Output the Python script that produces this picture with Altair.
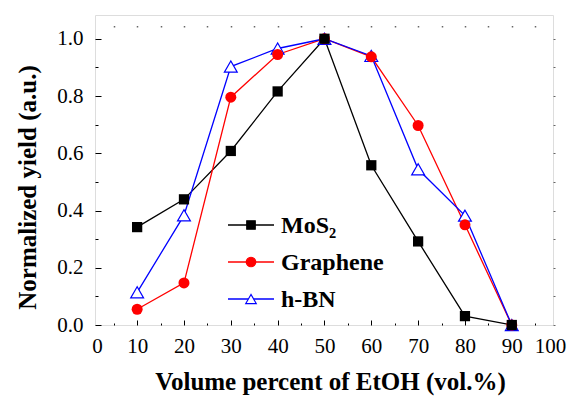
import altair as alt
import pandas as pd

# ---- data ----
etoh = [10, 20, 30, 40, 50, 60, 70, 80, 90]
mos2 = [0.342, 0.439, 0.608, 0.816, 1.0, 0.558, 0.292, 0.031, 0.0]
graphene = [0.055, 0.147, 0.796, 0.945, 1.0, 0.937, 0.697, 0.350, 0.0]
hbn = [0.114, 0.383, 0.903, 0.966, 1.0, 0.940, 0.544, 0.382, 0.0]

series_names = ["MoS\u2082", "Graphene", "h-BN"]
series_colors = ["#000000", "#ff0000", "#0000ff"]
series_shapes = ["square", "circle", "triangle-up"]
series_fills = ["#000000", "#ff0000", "#ffffff"]

x_label_values = [10, 20, 30, 40, 50, 60, 70, 80, 90]
x_end_labels = [0, 100]
x_major_ticks = [10, 20, 30, 40, 50, 60, 70, 80, 90]
x_minor_ticks = [5, 15, 25, 35, 45, 55, 65, 75, 85, 95]
x_top_dots = [5, 10, 15, 20, 25, 30, 35, 40, 45, 50, 55, 60, 65, 70, 75, 80, 85, 90, 95]
y_label_values = [0.0, 0.2, 0.4, 0.6, 0.8, 1.0]
y_minor_ticks = [0.1, 0.3, 0.5, 0.7, 0.9]
y_right_dots = [0.0, 0.1, 0.2, 0.3, 0.4, 0.5, 0.6, 0.7, 0.8, 0.9, 1.0]

rows = []
for name, vals in zip(series_names, [mos2, graphene, hbn]):
    for xv, yv in zip(etoh, vals):
        rows.append({"x": xv, "y": yv, "series": name})
df = pd.DataFrame(rows)
legend_df = pd.DataFrame({"series": series_names})

FONT = "Liberation Serif"
xs = alt.Scale(domain=[1, 98.8], nice=False, zero=False)
xs_frame = alt.Scale(domain=[0, 100], nice=False, zero=False)
ys = alt.Scale(domain=[0, 1.083], nice=False, zero=False)
color_scale = alt.Scale(domain=series_names, range=series_colors)
# legend rows placed by a point scale (pixels inside the plot area)
legend_rows = alt.Scale(type="point", domain=series_names, range=[210, 284], padding=0)


def tick_axis(**kw):
    base = dict(grid=False, domain=False, labels=False, ticks=True, title=None,
                tickColor="black", tickWidth=1)
    base.update(kw)
    return alt.Axis(**base)


x_labels_axis = alt.Axis(values=x_label_values, grid=False, domain=False, ticks=False,
                         tickSize=0, labelFont=FONT, labelFontSize=21, labelColor="black",
                         labelPadding=10, labelFlush=False, labelOverlap=False,
                         title="Volume percent of EtOH (vol.%)", titleFont=FONT,
                         titleFontSize=25, titleFontWeight="bold", titleColor="black",
                         titlePadding=13, titleX=235, orient="bottom")
x_end_axis = alt.Axis(values=x_end_labels, grid=False, domain=False, ticks=False,
                      tickSize=0, labelFont=FONT, labelFontSize=21, labelColor="black",
                      labelPadding=10, labelFlush=False, labelOverlap=False, title=None,
                      labelOffset={"condition": {"test": "datum.value == 0", "value": 2},
                                   "value": -3},
                      orient="bottom")
y_labels_axis = alt.Axis(values=y_label_values, format=".1f", grid=False, domain=False,
                         ticks=False, tickSize=0, labelFont=FONT, labelFontSize=21,
                         labelColor="black", labelPadding=12, labelFlush=False,
                         labelOverlap=False,
                         title="Normalized yield (a.u.)", titleFont=FONT, titleFontSize=25,
                         titleFontWeight="bold", titleColor="black", titlePadding=16,
                         titleY=172, orient="left")

base = alt.Chart(df)

lines = base.mark_line(strokeWidth=1.3).encode(
    x=alt.X("x:Q", scale=xs, axis=x_labels_axis),
    y=alt.Y("y:Q", scale=ys, axis=y_labels_axis),
    color=alt.Color("series:N", scale=color_scale, legend=None),
    order="x:Q",
)

tri = base.transform_filter(alt.datum.series == "h-BN").mark_point(
    shape="triangle-up", size=165, filled=False, fill="white", fillOpacity=1,
    stroke="#0000ff", strokeWidth=1.2, opacity=1
).encode(
    x=alt.X("x:Q", scale=xs, axis=tick_axis(values=x_top_dots, orient="top", tickSize=1.5,
                                            offset=-12, tickColor="#666666", tickWidth=1.5)),
    y=alt.Y("y:Q", scale=ys, axis=tick_axis(values=y_right_dots, orient="right", tickSize=2,
                                            offset=0, tickColor="#666666")),
)

circ = base.transform_filter(alt.datum.series == "Graphene").mark_circle(
    size=121, color="#ff0000", opacity=1
).encode(
    x=alt.X("x:Q", scale=xs, axis=tick_axis(values=x_minor_ticks, orient="bottom",
                                            tickSize=2, offset=-2)),
    y=alt.Y("y:Q", scale=ys, axis=tick_axis(values=y_minor_ticks, orient="left",
                                            tickSize=3, offset=-3)),
)

sq = base.transform_filter(alt.datum.series == "MoS\u2082").mark_square(
    size=105, color="#000000", opacity=1
).encode(
    x=alt.X("x:Q", scale=xs, axis=tick_axis(values=x_major_ticks, orient="bottom",
                                            tickSize=5, offset=-5)),
    y=alt.Y("y:Q", scale=ys, axis=tick_axis(values=y_label_values, orient="left",
                                            tickSize=6, offset=-6)),
)

# frame-aligned end labels (0 and 100) on an axis of its own; no marks drawn
ends = base.transform_filter("datum.x < 0").mark_point().encode(
    x=alt.X("x:Q", scale=xs_frame, axis=x_end_axis),
    y=alt.Y("y:Q", scale=ys, axis=None),
)

# ---- in-plot legend ----
lbase = alt.Chart(legend_df)
leg_y = alt.Y("series:N", scale=legend_rows, axis=None)
leg_lines = lbase.mark_rule(strokeWidth=1.3).encode(
    x=alt.value(133), x2=alt.value(179), y=leg_y,
    color=alt.Color("series:N", scale=color_scale, legend=None),
)
leg_marks = lbase.mark_point(filled=True, opacity=1, strokeWidth=1.2).encode(
    x=alt.value(156), y=leg_y,
    shape=alt.Shape("series:N", scale=alt.Scale(domain=series_names, range=series_shapes),
                    legend=None),
    fill=alt.Fill("series:N", scale=alt.Scale(domain=series_names, range=series_fills),
                  legend=None),
    stroke=alt.Stroke("series:N", scale=color_scale, legend=None),
    size=alt.Size("series:N", scale=alt.Scale(domain=series_names, range=[72, 110, 120]),
                  legend=None),
)
leg_text = lbase.mark_text(align="left", baseline="middle", font=FONT, fontSize=24,
                           fontWeight="bold", color="black", dy=1).encode(
    x=alt.value(186), y=leg_y, text="series:N",
)

chart = alt.layer(lines, tri, circ, sq, ends, leg_lines, leg_marks, leg_text).resolve_axis(
    x="independent", y="independent"
).resolve_scale(x="independent", y="independent").properties(
    width=458, height=310,
    padding={"left": 87, "top": 7, "right": 14, "bottom": 72},
    autosize=alt.AutoSizeParams(type="none"),
).configure_view(stroke="black", strokeWidth=1.3).configure(
    background="white", font=FONT
).configure_axis(labelFont=FONT, titleFont=FONT)

chart.save("out.html", embed_options={"renderer": "svg", "actions": False})
